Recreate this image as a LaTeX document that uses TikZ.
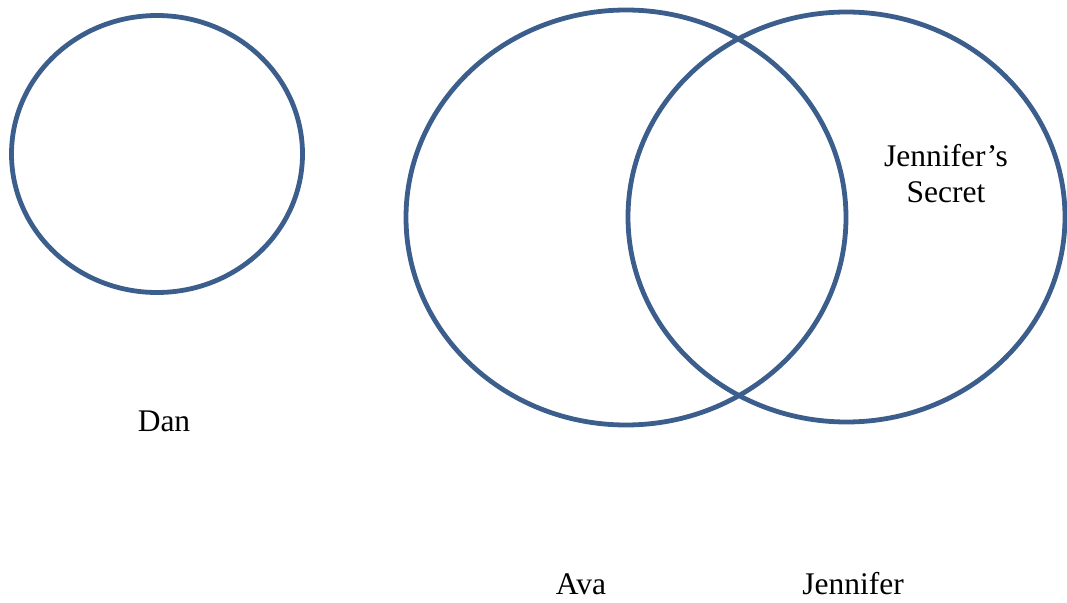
\documentclass[tikz,border=0pt]{standalone}
\usepackage{fontspec}
\setmainfont{Liberation Serif}
\usetikzlibrary{shapes.geometric}
\definecolor{ringblue}{HTML}{3B5E8C}
\begin{document}
\begin{tikzpicture}[x=1pt,y=-1pt,
  ring/.style={draw=ringblue,line width=4.8pt,ellipse,inner sep=0pt,outer sep=0pt},
  lbl/.style={font=\fontsize{31.5}{36}\selectfont,inner sep=0pt,align=center}]
\useasboundingbox (0,0) rectangle (1067,602);
\node[ring,minimum width=291,minimum height=277] (dan) at (157,154) {};
\node[ring,minimum width=440,minimum height=415] (ava) at (626,217.5) {};
\node[ring,minimum width=437,minimum height=410] (jen) at (846.5,217) {};
\node[lbl] (dl) at (164,421) {Dan};
\node[lbl] (al) at (581,584) {Ava};
\node[lbl] (jl) at (853,584) {Jennifer};
\node[lbl] (js) at (946,174) {Jennifer’s\\Secret};
\end{tikzpicture}
\end{document}
